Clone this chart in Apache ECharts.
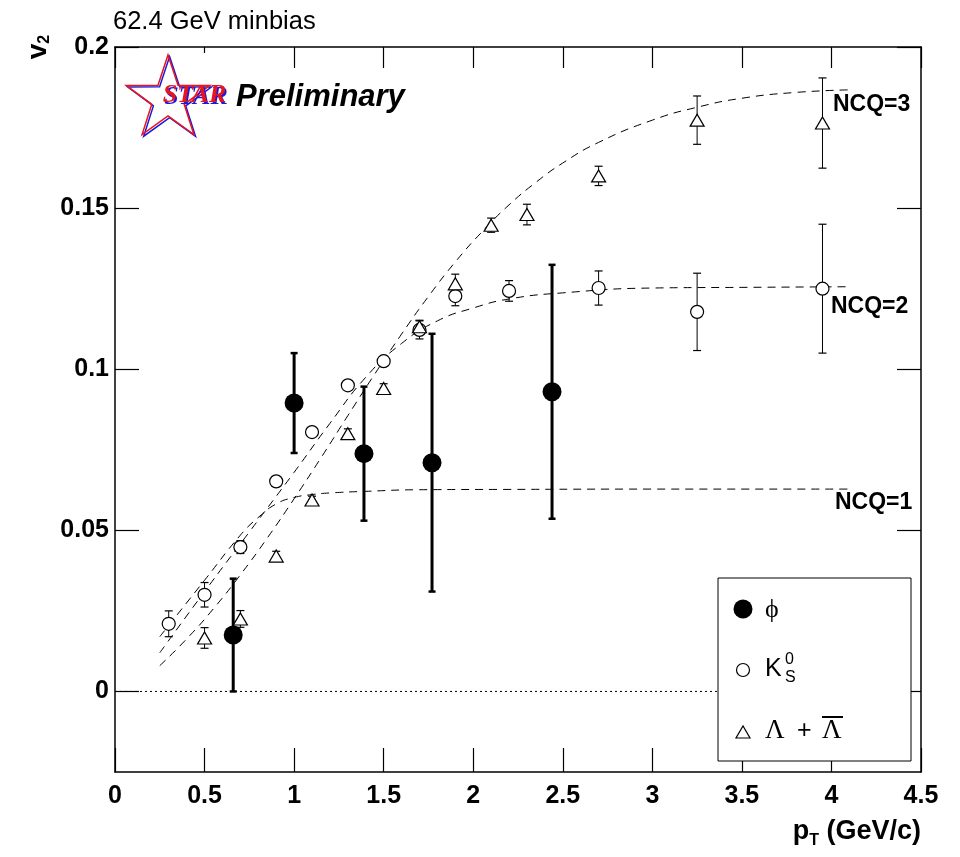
<!DOCTYPE html>
<html><head><meta charset="utf-8">
<script src="https://cdn.jsdelivr.net/npm/echarts@6/dist/echarts.min.js"></script>
<style>html,body{margin:0;padding:0;background:#fff}#c{width:960px;height:857px}</style>
</head><body><div id="c"></div>
<script>
// ---- data ----
const xTicks = [0, 0.5, 1, 1.5, 2, 2.5, 3, 3.5, 4, 4.5];
const yTicks = [0, 0.05, 0.1, 0.15, 0.2];

const phiX   = [0.66, 1.0, 1.39, 1.77, 2.44];
const phiY   = [0.0175, 0.0895, 0.0738, 0.0710, 0.0930];
const phiErr = [0.0175, 0.0155, 0.0208, 0.0400, 0.0394];

const k0X   = [0.3, 0.5, 0.7, 0.9, 1.1, 1.3, 1.5, 1.7, 1.9, 2.2, 2.7, 3.25, 3.95];
const k0Y   = [0.021, 0.030, 0.0448, 0.0652, 0.0805, 0.095, 0.1025, 0.1122, 0.1227, 0.1243, 0.1252, 0.1178, 0.125];
const k0Err = [0.0040, 0.0038, 0.0020, 0.0015, 0.0012, 0.0012, 0.0012, 0.0028, 0.0030, 0.0032, 0.0053, 0.0120, 0.0200];

const laX   = [0.5, 0.7, 0.9, 1.1, 1.3, 1.5, 1.7, 1.9, 2.1, 2.3, 2.7, 3.25, 3.95];
const laY   = [0.0166, 0.0225, 0.0420, 0.0594, 0.0800, 0.0940, 0.1132, 0.1265, 0.1447, 0.1480, 0.1600, 0.1773, 0.1764];
const laErr = [0.0032, 0.0026, 0.0015, 0.0012, 0.0015, 0.0015, 0.0020, 0.0030, 0.0022, 0.0032, 0.0030, 0.0075, 0.0140];

const ncq1X = [0.25, 0.5, 0.7, 0.8, 0.9, 1.0, 1.1, 1.2, 1.4, 1.7, 2.2, 3.0, 4.1];
const ncq1Y = [0.0170, 0.0345, 0.0485, 0.0540, 0.0582, 0.0602, 0.0611, 0.0616, 0.0621, 0.0626, 0.0627, 0.0628, 0.0628];

const ncq2X = [0.25, 0.5, 0.75, 1.0, 1.2, 1.4, 1.6, 1.8, 2.0, 2.2, 2.5, 3.0, 3.5, 4.1];
const ncq2Y = [0.0120, 0.0310, 0.0495, 0.0680, 0.0832, 0.0975, 0.1080, 0.1150, 0.1190, 0.1218, 0.1237, 0.1252, 0.1254, 0.1256];

const ncq3X = [0.25, 0.4, 0.55, 0.7, 0.85, 1.0, 1.15, 1.3, 1.45, 1.6, 1.75, 1.9, 2.05, 2.2, 2.35, 2.5, 2.7, 3.0, 3.25, 3.5, 3.8, 4.1];
const ncq3Y = [0.0080, 0.0163, 0.0257, 0.0362, 0.0476, 0.0598, 0.0725, 0.0856, 0.0985, 0.1109, 0.1226, 0.1333, 0.1427, 0.1510, 0.1580, 0.1640, 0.1704, 0.1773, 0.1813, 0.1841, 0.1859, 0.1867];

const zeroX = [0, 4.5];
const zeroY = [0, 0];

// ---- helpers ----
const pairs = (xs, ys) => xs.map((x, i) => [x, ys[i]]);
const errRows = (xs, ys, es) => xs.map((x, i) => [x, ys[i] - es[i], ys[i] + es[i]]);
const fmt = v => String(Math.round(v * 1000) / 1000);

function errRender(lw, capW, capLw) {
  return function (params, api) {
    const x = api.value(0), lo = api.value(1), hi = api.value(2);
    const a = api.coord([x, lo]), b = api.coord([x, hi]);
    const st = { stroke: '#000', lineWidth: lw };
    const cs = { stroke: '#000', lineWidth: capLw };
    return { type: 'group', children: [
      { type: 'line', shape: { x1: a[0], y1: a[1], x2: b[0], y2: b[1] }, style: st },
      { type: 'line', shape: { x1: a[0] - capW / 2, y1: a[1], x2: a[0] + capW / 2, y2: a[1] }, style: cs },
      { type: 'line', shape: { x1: b[0] - capW / 2, y1: b[1], x2: b[0] + capW / 2, y2: b[1] }, style: cs }
    ]};
  };
}

const SANS = 'Liberation Sans, Arial, Helvetica, sans-serif';
const SERIF = 'Liberation Serif, DejaVu Serif, Times New Roman, serif';
const axisLineStyle = { color: '#000', width: 1.5 };
const tickStyle = { color: '#000', width: 1.2 };

const chart = echarts.init(document.getElementById('c'), null, { renderer: 'canvas' });

const dashCurve = (name, xs, ys) => ({
  type: 'line', name, data: pairs(xs, ys), symbol: 'none', smooth: 0.5,
  lineStyle: { color: '#000', width: 1, type: [8, 6] }, z: 1, silent: true
});

chart.setOption({
  animation: false,
  backgroundColor: '#fff',
  grid: { left: 115, right: 39, top: 47, bottom: 85, containLabel: false, outerBoundsMode: 'none' },
  xAxis: [
    { type: 'value', min: 0, max: 4.5, interval: 0.5, position: 'bottom',
      axisLine: { show: true, onZero: false, lineStyle: axisLineStyle },
      axisTick: { show: true, inside: true, length: 24, lineStyle: tickStyle, customValues: xTicks },
      axisLabel: { show: true, color: '#000', fontFamily: SANS, fontWeight: 'bold', fontSize: 25, margin: 12,
                   formatter: fmt, customValues: xTicks, showMinLabel: true, showMaxLabel: true, hideOverlap: false },
      splitLine: { show: false } },
    { type: 'value', min: 0, max: 4.5, interval: 0.5, position: 'top',
      axisLine: { show: true, onZero: false, lineStyle: axisLineStyle },
      axisTick: { show: true, inside: true, length: 21, lineStyle: tickStyle, customValues: xTicks },
      axisLabel: { show: false }, splitLine: { show: false } }
  ],
  yAxis: [
    { type: 'value', min: -0.025, max: 0.2, interval: 0.025, position: 'left',
      axisLine: { show: true, onZero: false, lineStyle: axisLineStyle },
      axisTick: { show: true, inside: true, length: 24, lineStyle: tickStyle, customValues: yTicks },
      axisLabel: { show: true, color: '#000', fontFamily: SANS, fontWeight: 'bold', fontSize: 25, margin: 6,
                   formatter: fmt, customValues: yTicks, showMinLabel: true, showMaxLabel: true, hideOverlap: false },
      splitLine: { show: false } },
    { type: 'value', min: -0.025, max: 0.2, interval: 0.025, position: 'right',
      axisLine: { show: true, onZero: false, lineStyle: axisLineStyle },
      axisTick: { show: true, inside: true, length: 24, lineStyle: tickStyle, customValues: yTicks },
      axisLabel: { show: false }, splitLine: { show: false } }
  ],
  legend: { show: false },
  series: [
    { type: 'line', name: 'zero', data: pairs(zeroX, zeroY), symbol: 'none',
      lineStyle: { color: '#000', width: 1, type: [2, 3] }, z: 1, silent: true },
    dashCurve('NCQ=1', ncq1X, ncq1Y),
    dashCurve('NCQ=2', ncq2X, ncq2Y),
    dashCurve('NCQ=3', ncq3X, ncq3Y),
    { type: 'custom', name: 'K0S err', data: errRows(k0X, k0Y, k0Err), renderItem: errRender(1, 8, 1.2),
      encode: { x: 0, y: [1, 2] }, z: 2, silent: true },
    { type: 'custom', name: 'Lambda err', data: errRows(laX, laY, laErr), renderItem: errRender(1, 8, 1.2),
      encode: { x: 0, y: [1, 2] }, z: 2, silent: true },
    { type: 'custom', name: 'phi err', data: errRows(phiX, phiY, phiErr), renderItem: errRender(3, 7, 2.5),
      encode: { x: 0, y: [1, 2] }, z: 2, silent: true },
    { type: 'scatter', name: 'K0S', data: pairs(k0X, k0Y), symbol: 'circle', symbolSize: 13,
      itemStyle: { color: '#fff', borderColor: '#000', borderWidth: 1.2, opacity: 1 }, z: 3 },
    { type: 'scatter', name: 'Lambda', data: pairs(laX, laY), symbol: 'triangle', symbolSize: [14, 12],
      itemStyle: { color: '#fff', borderColor: '#000', borderWidth: 1.2, opacity: 1 }, z: 3 },
    { type: 'scatter', name: 'phi', data: pairs(phiX, phiY), symbol: 'circle', symbolSize: 19,
      itemStyle: { color: '#000', opacity: 1 }, z: 4 }
  ],
  graphic: [
    // title
    { type: 'text', x: 113, y: 22, z: 50, style: { text: '62.4 GeV minbias', font: '25.5px ' + SANS, fill: '#000', verticalAlign: 'middle' } },
    // y axis title (rotated)
    { type: 'text', x: 38, y: 47, rotation: Math.PI / 2, z: 50,
      style: { text: '{v|v}{s|2}', align: 'center', verticalAlign: 'middle',
        rich: { v: { font: 'bold 28px ' + SANS, fill: '#000', lineHeight: 30, verticalAlign: 'middle' },
                s: { font: 'bold 16px ' + SANS, fill: '#000', lineHeight: 30, verticalAlign: 'bottom' } } } },
    // x axis title
    { type: 'text', x: 921, y: 832, z: 50,
      style: { text: '{p|p}{s|T}{p| (GeV/c)}', align: 'right', verticalAlign: 'middle',
        rich: { p: { font: 'bold 27px ' + SANS, fill: '#000', lineHeight: 34, verticalAlign: 'middle' },
                s: { font: 'bold 16px ' + SANS, fill: '#000', lineHeight: 34, verticalAlign: 'bottom' } } } },
    // NCQ labels
    { type: 'text', x: 833, y: 105, z: 50, style: { text: 'NCQ=3', font: 'bold 23px ' + SANS, fill: '#000', verticalAlign: 'middle' } },
    { type: 'text', x: 831, y: 307, z: 50, style: { text: 'NCQ=2', font: 'bold 23px ' + SANS, fill: '#000', verticalAlign: 'middle' } },
    { type: 'text', x: 835, y: 503, z: 50, style: { text: 'NCQ=1', font: 'bold 23px ' + SANS, fill: '#000', verticalAlign: 'middle' } },
    // STAR logo
    { type: 'rect', z: 40, shape: { x: 121, y: 53, width: 110, height: 86 }, style: { fill: '#fff' } },
    { type: 'polygon', z: 41, x: 1.6, y: 1.6,
      shape: { points: [[168,55],[178,85.2],[209.8,85.4],[184.2,104.3],[193.9,134.6],[168,116],[142.1,134.6],[151.8,104.3],[126.2,85.4],[158,85.2]] },
      style: { fill: 'none', stroke: '#1a1adc', lineWidth: 1.5 } },
    { type: 'polygon', z: 42,
      shape: { points: [[168,55],[178,85.2],[209.8,85.4],[184.2,104.3],[193.9,134.6],[168,116],[142.1,134.6],[151.8,104.3],[126.2,85.4],[158,85.2]] },
      style: { fill: 'none', stroke: '#e8141e', lineWidth: 1.5 } },
    { type: 'text', x: 196, y: 97, z: 43, style: { text: 'STAR', font: 'italic bold 26px ' + SERIF, fill: '#1a1adc', align: 'center', verticalAlign: 'middle' } },
    { type: 'text', x: 194.5, y: 95.5, z: 44, style: { text: 'STAR', font: 'italic bold 26px ' + SERIF, fill: '#e8141e', align: 'center', verticalAlign: 'middle' } },
    { type: 'text', x: 236, y: 97, z: 44, style: { text: 'Preliminary', font: 'italic bold 31px ' + SANS, fill: '#000', verticalAlign: 'middle' } },
    // legend box
    { type: 'rect', z: 100, shape: { x: 718, y: 578, width: 193, height: 183 }, style: { fill: '#fff', stroke: '#000', lineWidth: 1 } },
    { type: 'circle', z: 101, shape: { cx: 743, cy: 609, r: 9.5 }, style: { fill: '#000' } },
    { type: 'text', z: 101, x: 765, y: 610, style: { text: 'ϕ', font: '26px ' + SERIF, fill: '#000', verticalAlign: 'middle' } },
    { type: 'circle', z: 101, shape: { cx: 743, cy: 670, r: 6.5 }, style: { fill: '#fff', stroke: '#000', lineWidth: 1.2 } },
    { type: 'text', z: 101, x: 765, y: 669, style: { text: 'K', font: '25px ' + SANS, fill: '#000', verticalAlign: 'middle' } },
    { type: 'text', z: 101, x: 785, y: 660, style: { text: '0', font: '16px ' + SANS, fill: '#000', verticalAlign: 'middle' } },
    { type: 'text', z: 101, x: 785, y: 678, style: { text: 'S', font: '16px ' + SANS, fill: '#000', verticalAlign: 'middle' } },
    { type: 'polygon', z: 101, shape: { points: [[736, 738], [750, 738], [743, 726]] }, style: { fill: '#fff', stroke: '#000', lineWidth: 1.2 } },
    { type: 'text', z: 101, x: 765, y: 731, style: { text: 'Λ', font: '27px ' + SERIF, fill: '#000', verticalAlign: 'middle' } },
    { type: 'text', z: 101, x: 797, y: 731, style: { text: '+', font: '25px ' + SANS, fill: '#000', verticalAlign: 'middle' } },
    { type: 'text', z: 101, x: 822, y: 731, style: { text: 'Λ', font: '27px ' + SERIF, fill: '#000', verticalAlign: 'middle' } },
    { type: 'line', z: 101, shape: { x1: 822, y1: 717, x2: 843, y2: 717 }, style: { stroke: '#000', lineWidth: 2 } }
  ]
});
</script>
</body></html>
